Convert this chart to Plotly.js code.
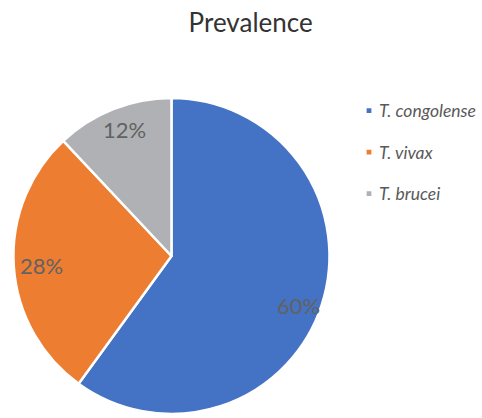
<!DOCTYPE html>
<html>
<head>
<meta charset="utf-8">
<script src="https://cdn.plot.ly/plotly-3.0.1.min.js"></script>
<style>
html,body{margin:0;padding:0;overflow:hidden;background:#fff;}
#chart{width:482px;height:424px;}
</style>
</head>
<body>
<div id="chart"></div>
<script>
var categories = ["T. congolense", "T. vivax", "T. brucei"];
var values = [60, 28, 12];
var colors = ["#4472C4", "#ED7D31", "#B0B1B5"];

var FONT = "Lato, 'Noto Sans', sans-serif";
var W = 482, H = 424;
var total = values.reduce(function(a,b){return a+b;},0);

// pie geometry (pixels)
var PCX = 178.5, PCY = 256, PR = 164.5;
var dx0 = (PCX-PR)/W, dx1 = (PCX+PR)/W, dy0 = (H-PCY-PR)/H, dy1 = (H-PCY+PR)/H;
// small pixel nudges of the data labels (style only)
var labelNudge = [[5.5, 8.5], [-2, 1.5], [0.5, -2.5]];

var annotations = [];
var cum = 0;
for (var i = 0; i < values.length; i++) {
  var mid = (cum + values[i]/2) / total * 2 * Math.PI;
  cum += values[i];
  var px = PCX + PR*0.81*Math.sin(mid) + labelNudge[i][0];
  var py = PCY - PR*0.81*Math.cos(mid) + labelNudge[i][1];
  annotations.push({
    xref: "paper", yref: "paper", x: px / W, y: 1 - py / H,
    text: Math.round(values[i]/total*100) + "%",
    showarrow: false, xanchor: "center", yanchor: "middle",
    font: {family: FONT, size: 22, color: "#626262"}
  });
}

var trace = {
  type: "pie",
  labels: categories.map(function(c){return "<i>" + c + "</i>";}),
  values: values, sort: false, direction: "clockwise", rotation: 0,
  textinfo: "none", hoverinfo: "label+percent",
  domain: {x: [dx0, dx1], y: [Math.max(0, dy0), Math.min(1, dy1)]},
  marker: {colors: colors, line: {color: "#FFFFFF", width: 2.5}}
};

var layout = {
  width: W, height: H,
  margin: {l: 0, r: 0, t: 0, b: 0},
  paper_bgcolor: "#FFFFFF",
  showlegend: true,
  title: {
    text: "Prevalence",
    font: {family: FONT, size: 26, color: "#333333"},
    x: 0.52, xref: "container", xanchor: "center",
    y: 1 - 23/H, yref: "container", yanchor: "middle"
  },
  legend: {
    x: 354/W, xanchor: "left", y: 1 - 110.5/H, yanchor: "top",
    font: {family: FONT, size: 17.5, color: "#595959"},
    bgcolor: "rgba(0,0,0,0)"
  },
  annotations: annotations
};

Plotly.newPlot("chart", [trace], layout, {displayModeBar: false, staticPlot: true}).then(function(gd){
  gd.querySelectorAll(".legend .scrollbox, .legend [clip-path]").forEach(function(e){ e.removeAttribute("clip-path"); });
  gd.querySelectorAll(".legend .traces").forEach(function(g, k){
    g.setAttribute("transform", "translate(0," + (k*41.5) + ")");
    g.querySelectorAll(".legendpoints path").forEach(function(p){ p.setAttribute("transform", "translate(29,0) scale(0.5)"); });
    var txt = g.querySelector("text.legendtext");
    if (txt) txt.setAttribute("x", "39");
  });
});
</script>
</body>
</html>
